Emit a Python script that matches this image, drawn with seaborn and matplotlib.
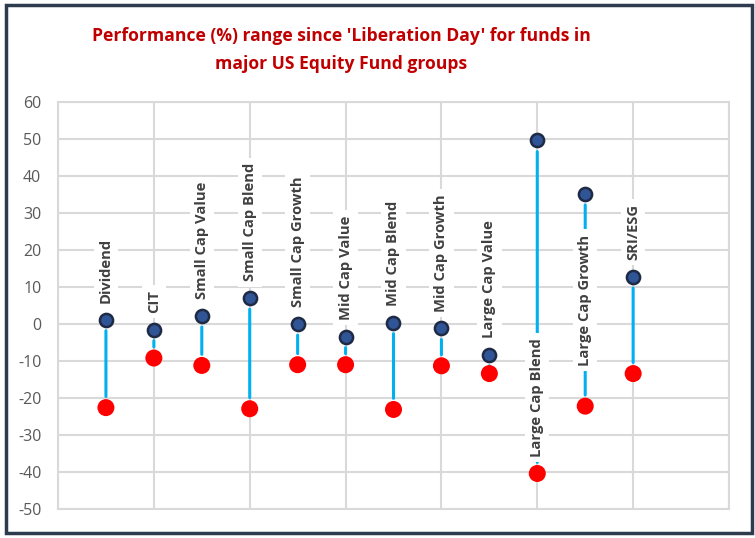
import numpy as np
import pandas as pd
import matplotlib
matplotlib.use("Agg")
import matplotlib.pyplot as plt
import seaborn as sns

# Performance range (%) per fund group: best and worst fund
categories = ["Dividend", "CIT", "Small Cap Value", "Small Cap Blend",
              "Small Cap Growth", "Mid Cap Value", "Mid Cap Blend",
              "Mid Cap Growth", "Large Cap Value", "Large Cap Blend",
              "Large Cap Growth", "SRI/ESG"]
high = [1.2, -1.5, 2.2, 7.0, 0.0, -3.4, 0.4, -1.2, -8.3, 49.6, 35.2, 12.7]
low = [-22.6, -9.2, -11.2, -22.9, -11.0, -11.0, -23.1, -11.3, -13.4, -40.4, -22.2, -13.4]
y_ticks = list(range(-50, 61, 10))

title = "Performance (%) range since 'Liberation Day' for funds in\nmajor US Equity Fund groups"

sns.set_style("white")
plt.rcParams["font.family"] = ["Open Sans", "DejaVu Sans"]

df = pd.DataFrame({"group": categories, "high": high, "low": low})
df["x"] = 0.5 * (np.arange(len(df)) + 1)

fig = plt.figure(figsize=(7.55, 5.38), dpi=100)
ax = fig.add_axes([58 / 755, 29 / 538, 671 / 755, 407 / 538])

# range lines
for _, r in df.iterrows():
    ax.annotate("", xy=(r.x, r.low), xytext=(r.x, r.high),
                arrowprops=dict(arrowstyle="-", color="#00B0F0", lw=2.2,
                                shrinkA=8, shrinkB=8), zorder=2)

# category labels
for _, r in df.iterrows():
    if r.high > 40:
        anchor, off, va = r.low, 12, "bottom"
    elif r.high > 30:
        anchor, off, va = (r.high + r.low) / 2, 0, "center"
    else:
        anchor, off, va = r.high, 12, "bottom"
    ax.annotate(r.group, xy=(r.x, anchor), xytext=(0, off),
                textcoords="offset points", rotation=90, ha="center", va=va,
                fontsize=10.6, fontweight="bold", color="#404040", zorder=3,
                bbox=dict(boxstyle="square,pad=0.35", fc="white", ec="none"))

sns.scatterplot(data=df, x="x", y="low", color="#FF0000", s=150,
                edgecolor="none", ax=ax, zorder=4)
sns.scatterplot(data=df, x="x", y="high", color="#2F5597", s=90,
                edgecolor="#1F2A44", linewidth=1.8, ax=ax, zorder=5)

ax.set_xlim(0, 7)
ax.set_ylim(-50, 60)
ax.set_xticks(range(0, 8))
ax.set_xticklabels([])
ax.set_yticks(y_ticks)
ax.set_yticklabels([str(t) for t in y_ticks])
ax.tick_params(axis="both", length=0)
ax.tick_params(axis="y", labelsize=11.5, labelcolor="#595959", pad=12)
ax.grid(True, color="#D9D9D9", lw=1.5, zorder=0)
ax.set_axisbelow(True)
for s in ax.spines.values():
    s.set_color("#D9D9D9")
    s.set_linewidth(1.5)
ax.set_xlabel("")
ax.set_ylabel("")

fig.text(341.5 / 755, 1 - 50 / 538, title, ha="center", va="center",
         fontsize=12.6, fontweight="bold", color="#C00000", linespacing=1.75)

# chart frame
fig.patches.append(plt.Rectangle((6 / 755, 5 / 538), 746 / 755, 528 / 538,
                                 transform=fig.transFigure, fill=False,
                                 ec="#2E3A4E", lw=2.5))

fig.savefig("out.png", dpi=100)
